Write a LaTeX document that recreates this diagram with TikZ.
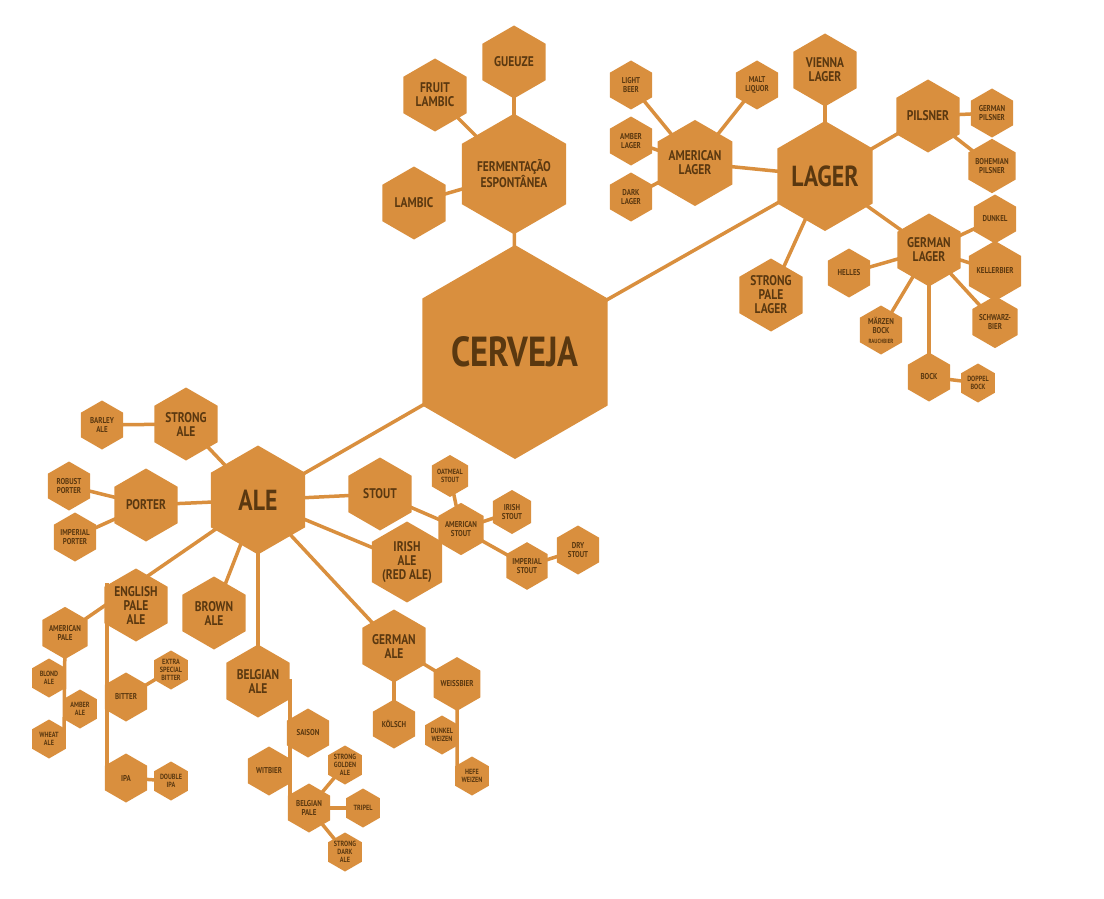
\documentclass[tikz,border=0pt]{standalone}
\usepackage{fontspec}
\newfontfamily\hf[FakeStretch=0.82]{PT Sans}
\usetikzlibrary{shapes.geometric,backgrounds}
\definecolor{hexc}{HTML}{D98F3E}
\definecolor{txtc}{HTML}{5A3810}
\tikzset{
 hex/.style={regular polygon, regular polygon sides=6, shape border rotate=30, fill=hexc, inner sep=0pt, text=txtc, align=center},
 hC/.style={hex, minimum size=214pt, font=\hf\bfseries\fontsize{42}{44}\selectfont},
 hL/.style={hex, minimum size=109pt, font=\hf\bfseries\fontsize{29}{30}\selectfont},
 hM/.style={hex, minimum size=73pt, font=\hf\bfseries\fontsize{14}{14}\selectfont},
 hS/.style={hex, minimum size=49pt, font=\hf\bfseries\fontsize{8.5}{9.5}\selectfont},
 hT/.style={hex, minimum size=39pt, font=\hf\bfseries\fontsize{7.5}{8}\selectfont},
 link/.style={draw=hexc, line width=3.5pt}
}
\begin{document}
\begin{tikzpicture}[x=1pt,y=-1pt]
\useasboundingbox (0,0) rectangle (1104,899);
% main
\node[hC] (cer) at (515,352) {CERVEJA};
\node[hL] (lag) at (825,176) {LAGER};
\node[hL] (ale) at (258,500) {ALE};
\node[hL, font=\hf\bfseries\fontsize{14}{15}\selectfont] (fer) at (514,174) {FERMENTAÇÃO\\ESPONTÂNEA};
% spontaneous
\node[hM] (gue) at (514,62) {GUEUZE};
\node[hM] (fru) at (435,95) {FRUIT\\LAMBIC};
\node[hM] (lam) at (414,203) {LAMBIC};
% lager side
\node[hM] (aml) at (695,163) {AMERICAN\\LAGER};
\node[hS] (lb) at (631,85) {LIGHT\\BEER};
\node[hS] (ml) at (757,85) {MALT\\LIQUOR};
\node[hS] (ambl) at (631,141) {AMBER\\LAGER};
\node[hS] (dl) at (631,197) {DARK\\LAGER};
\node[hM] (vie) at (825,70) {VIENNA\\LAGER};
\node[hM] (pil) at (928,116) {PILSNER};
\node[hS] (gp) at (992,113) {GERMAN\\PILSNER};
\node[hS] (bp) at (992,166) {BOHEMIAN\\PILSNER};
\node[hM] (gl) at (929,250) {GERMAN\\LAGER};
\node[hS] (dun) at (995,219) {DUNKEL};
\node[hS] (kel) at (995,271) {KELLERBIER};
\node[hS] (sch) at (995,322) {SCHWARZ-\\BIER};
\node[hS] (hel) at (849,273) {HELLES};
\node[hS] (mar) at (881,330) {MÄRZEN\\BOCK\\{\fontsize{6}{7}\selectfont RAUCHBIER}};
\node[hS] (boc) at (929,377) {BOCK};
\node[hT] (dbo) at (978,383) {DOPPEL\\BOCK};
\node[hM] (spl) at (771,295) {STRONG\\PALE\\LAGER};
% ale side
\node[hM] (sa) at (186,424) {STRONG\\ALE};
\node[hS] (ba) at (102,425) {BARLEY\\ALE};
\node[hM] (por) at (146,505) {PORTER};
\node[hS] (rp) at (69,486) {ROBUST\\PORTER};
\node[hS] (ip) at (75,537) {IMPERIAL\\PORTER};
\node[hM] (sto) at (380,494) {STOUT};
\node[hT] (os) at (450,476) {OATMEAL\\STOUT};
\node[hS, minimum size=44pt] (is) at (512,512) {IRISH\\STOUT};
\node[hS, minimum size=44pt] (as) at (461,529) {AMERICAN\\STOUT};
\node[hS] (ds) at (578,550) {DRY\\STOUT};
\node[hS, minimum size=44pt] (ims) at (527,566) {IMPERIAL\\STOUT};
\node[hM] (ira) at (407,562) {IRISH\\ALE\\(RED ALE)};
\node[hM] (epa) at (136,605) {ENGLISH\\PALE\\ALE};
\node[hM] (bra) at (214,613) {BROWN\\ALE};
\node[hS] (amp) at (65,633) {AMERICAN\\PALE};
\node[hT] (bla) at (49,678) {BLOND\\ALE};
\node[hT] (ama) at (80,709) {AMBER\\ALE};
\node[hT] (wa) at (49,739) {WHEAT\\ALE};
\node[hS] (bit) at (126,697) {BITTER};
\node[hT] (esb) at (171,670) {EXTRA\\SPECIAL\\BITTER};
\node[hS] (ipa) at (126,778) {IPA};
\node[hT] (dipa) at (171,781) {DOUBLE\\IPA};
\node[hM] (bea) at (258,681) {BELGIAN\\ALE};
\node[hS] (sai) at (308,733) {SAISON};
\node[hS] (wit) at (269,771) {WITBIER};
\node[hT] (sga) at (345,765) {STRONG\\GOLDEN\\ALE};
\node[hS] (bpa) at (309,808) {BELGIAN\\PALE};
\node[hT] (tri) at (363,808) {TRIPEL};
\node[hT] (sda) at (345,852) {STRONG\\DARK\\ALE};
\node[hM] (gea) at (394,646) {GERMAN\\ALE};
\node[hS] (wei) at (457,684) {WEISSBIER};
\node[hS] (kol) at (394,724) {KÖLSCH};
\node[hT] (dw) at (442,735) {DUNKEL\\WEIZEN};
\node[hT] (hw) at (472,776) {HEFE\\WEIZEN};
\coordinate (epj) at (107,583);
\coordinate (epb) at (107,778);
\coordinate (amb) at (64,745);
\coordinate (bej) at (290,681);
\coordinate (beb) at (290,808);
\coordinate (wej) at (457,770);
\begin{pgfonlayer}{background}
\draw[link] (cer.center) -- (lag.center);
\draw[link] (cer.center) -- (ale.center);
\draw[link] (cer.center) -- (fer.center);
\foreach \t in {gue,fru,lam} \draw[link] (fer.center) -- (\t.center);
\foreach \t in {aml,vie,pil,gl,spl} \draw[link] (lag.center) -- (\t.center);
\foreach \t in {lb,ml,ambl,dl} \draw[link] (aml.center) -- (\t.center);
\foreach \t in {gp,bp} \draw[link] (pil.center) -- (\t.center);
\foreach \t in {dun,kel,sch,hel,mar,boc} \draw[link] (gl.center) -- (\t.center);
\draw[link] (boc.center) -- (dbo.center);
\foreach \t in {sa,por,sto,ira,bra,bea,gea,amp} \draw[link] (ale.center) -- (\t.center);
\draw[link] (sa.center) -- (ba.center);
\draw[link] (por.center) -- (rp.center);
\draw[link] (por.center) -- (ip.center);
\draw[link] (sto.center) -- (as.center);
\foreach \t in {os,is,ims} \draw[link] (as.center) -- (\t.center);
\draw[link] (ims.center) -- (ds.center);
\draw[link] (epj) -- (epb) -- (ipa.center);
\draw[link] (bit.center) -- (107,697);
\draw[link] (bit.center) -- (esb.center);
\draw[link] (ipa.center) -- (dipa.center);
\draw[link] (amp.center) -- (amb);
\draw[link] (bea.center) -- (bej) -- (beb) -- (bpa.center);
\foreach \t in {sga,tri,sda} \draw[link] (bpa.center) -- (\t.center);
\draw[link] (gea.center) -- (wei.center);
\draw[link] (gea.center) -- (kol.center);
\draw[link] (wei.center) -- (wej) -- (hw.center);
\end{pgfonlayer}
\end{tikzpicture}
\end{document}
